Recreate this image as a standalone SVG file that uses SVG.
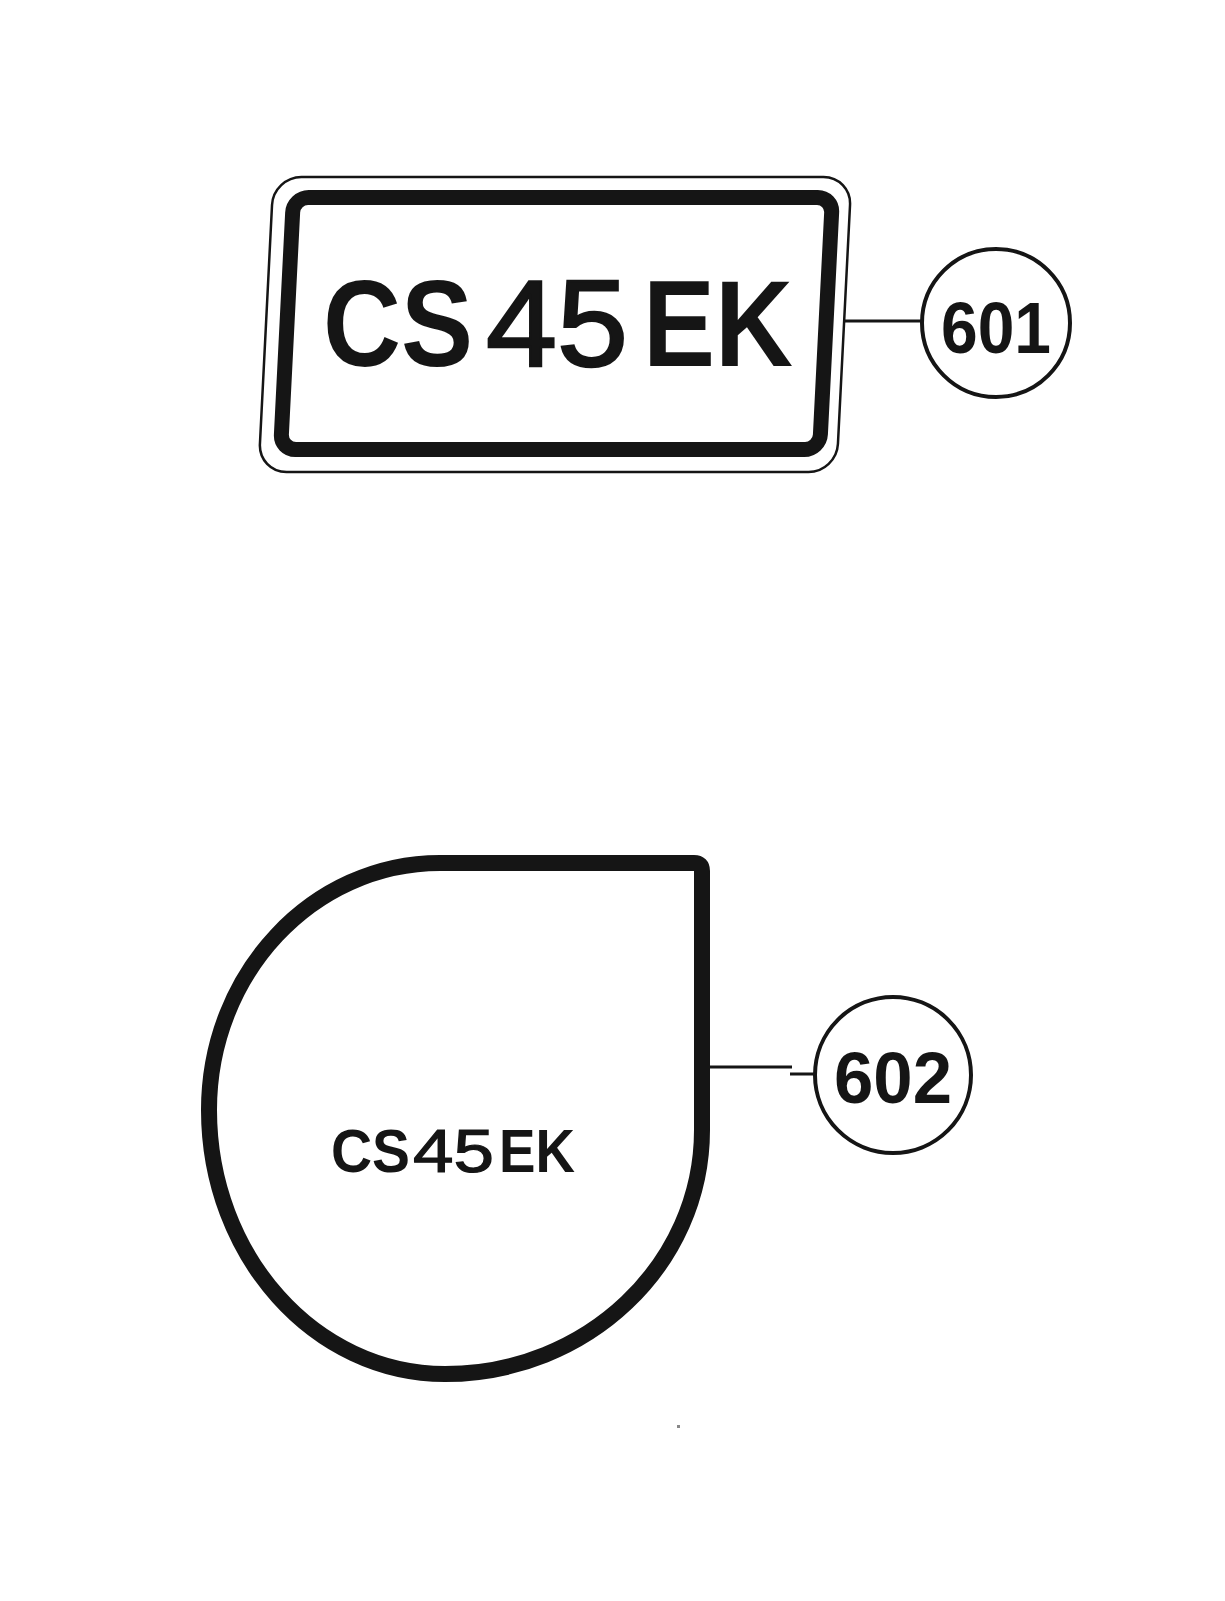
<svg xmlns="http://www.w3.org/2000/svg" width="1225" height="1601" viewBox="0 0 1225 1601">
<style>
.bold{font-family:"Liberation Sans",Arial,sans-serif;font-weight:bold;fill:#151515}
.reg{font-family:"Liberation Sans",Arial,sans-serif;font-weight:normal;fill:#151515;stroke:#151515}
.thick{fill:none;stroke:#151515;stroke-linejoin:round}
.conn{fill:none;stroke:#151515;stroke-width:3}
.bubble{fill:none;stroke:#151515;stroke-width:4}
</style>
<rect width="1225" height="1601" fill="#ffffff"/>
<g id="plate601">
  <g transform="translate(0,324) skewX(-2.9) translate(0,-324)">
    <rect x="266" y="177" width="578" height="295" rx="28" class="thick" stroke-width="2.5"/>
    <rect x="287" y="197.5" width="539" height="252" rx="15" class="thick" stroke-width="15"/>
  </g>
  <text x="323" y="366" font-size="123" class="bold" textLength="150" lengthAdjust="spacingAndGlyphs">CS</text>
  <text x="486" y="366" font-size="123" class="reg" stroke-width="2.5" textLength="142" lengthAdjust="spacingAndGlyphs">45</text>
  <text x="643" y="366" font-size="123" class="bold" textLength="150" lengthAdjust="spacingAndGlyphs">EK</text>
</g>
<g id="label601">
  <circle cx="996" cy="323" r="74" class="bubble"/>
  <text x="996" y="353" font-size="72" class="bold" text-anchor="middle" textLength="110" lengthAdjust="spacingAndGlyphs">601</text>
</g>
<g id="plate602">
  <path d="M440 863 C312.4 863 209 973.6 209 1110 C209 1255.8 314.7 1374 445 1374 C586.9 1374 702 1264.8 702 1130 V871 Q702 863 694 863 Z" class="thick" stroke-width="16"/>
  <text x="331" y="1172" font-size="61" class="bold" textLength="79" lengthAdjust="spacingAndGlyphs">CS</text>
  <text x="413" y="1172" font-size="61" class="reg" stroke-width="1.2" textLength="81" lengthAdjust="spacingAndGlyphs">45</text>
  <text x="499" y="1172" font-size="61" class="bold" textLength="76" lengthAdjust="spacingAndGlyphs">EK</text>
</g>
<g id="label602">
  <circle cx="893" cy="1075" r="78" class="bubble"/>
  <text x="893" y="1103" font-size="72" class="bold" text-anchor="middle" textLength="118" lengthAdjust="spacingAndGlyphs">602</text>
</g>
<g id="connectors">
  <path d="M843 321 H922" class="conn"/>
  <path d="M710 1067 H792 M790 1074 H816" class="conn"/>
</g>
<rect x="677" y="1425" width="3" height="3" fill="#888888"/>
</svg>
